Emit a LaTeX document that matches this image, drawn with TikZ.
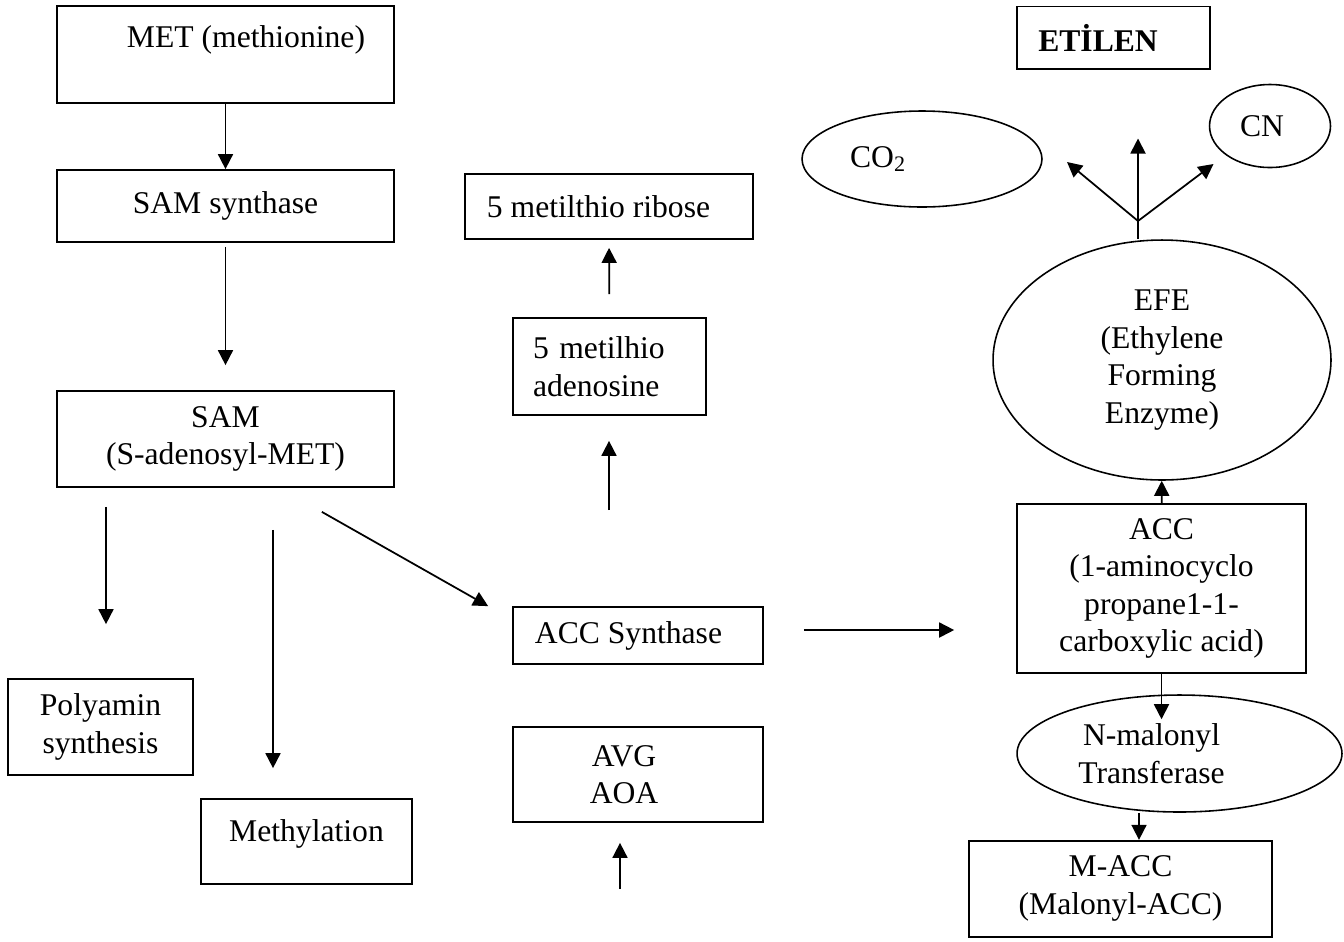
\documentclass[tikz,border=0pt]{standalone}
\usepackage{fontspec}
\setmainfont{Liberation Serif}
\usetikzlibrary{arrows.meta,shapes.geometric}

\begin{document}
\begin{tikzpicture}[
    x=0.02cm, y=-0.02cm,
    box/.style={draw, line width=1pt, inner sep=0pt, align=center},
    oval/.style={draw, ellipse, line width=0.9pt, inner sep=0pt, align=center},
    arr/.style={-{Triangle[length=0.3cm,width=0.3cm]}, line width=1pt},
    font=\fontsize{18pt}{21.4pt}\selectfont
  ]
  \useasboundingbox (0,0) rectangle (1344,941);

  % left column
  \node[box, minimum width=6.74cm, minimum height=1.94cm, text height=0.35cm, text depth=0.65cm] (met) at (225.5,54.5) {\hspace*{0.82cm}MET (methionine)};
  \node[box, minimum width=6.74cm, minimum height=1.44cm] (samsyn) at (225.5,206) {SAM synthase};
  \node[box, minimum width=6.74cm, minimum height=1.92cm] (sam) at (225.5,439) {SAM\\(S-adenosyl-MET)};
  \node[box, minimum width=3.7cm, minimum height=1.92cm] (poly) at (100.5,727) {Polyamin\\synthesis};
  \node[box, minimum width=4.22cm, minimum height=1.7cm, text height=0.3cm, text depth=0.3cm] (methyl) at (306.5,841.5) {Methylation};

  % middle column
  \node[box, minimum width=5.76cm, minimum height=1.3cm] (ribose) at (609,206.5) {5 metilthio ribose\hspace*{0.42cm}};
  \node[box, text width=3.06cm, inner xsep=0.4cm, minimum height=1.94cm, align=left] (mta) at (609.5,366.5) {5 metilhio\\adenosine};
  \node[box, minimum width=5cm, minimum height=1.14cm] (accsyn) at (638,635.5) {ACC Synthase\hspace*{0.38cm}};
  \node[box, minimum width=5cm, minimum height=1.9cm] (avg) at (638,774.5) {AVG\hspace*{0.56cm}\\AOA\hspace*{0.56cm}};

  % right column
  \node[box, minimum width=3.86cm, minimum height=1.25cm, font=\fontsize{18pt}{21.4pt}\selectfont\bfseries] (etilen) at (1113.5,37.75) {ETİLEN\hspace*{0.62cm}};
  \node[oval, minimum width=4.8cm, minimum height=1.92cm] (co2) at (922,159) {CO\textsubscript{2}\hspace*{1.76cm}};
  \node[oval, minimum width=2.42cm, minimum height=1.66cm] (cn) at (1270,126) {CN\hspace*{0.32cm}};
  \node[oval, minimum width=6.76cm, minimum height=4.8cm] (efe) at (1162,360) {EFE\\(Ethylene\\Forming\\Enzyme)};
  \node[box, minimum width=5.78cm, minimum height=3.38cm] (acc) at (1161.5,588.5) {ACC\\(1-aminocyclo\\propane1-1-\\carboxylic acid)};
  \node[oval, minimum width=6.5cm, minimum height=2.34cm] (nmt) at (1179.5,753.5) {N-malonyl\hspace*{1.12cm}\\Transferase\hspace*{1.12cm}};
  \node[box, minimum width=6.06cm, minimum height=1.92cm] (macc) at (1120.5,888.7) {M-ACC\\(Malonyl-ACC)};

  \coordinate (split) at (1138,221);
  \coordinate (upend) at (1138,138.5);
  \coordinate (leftend) at (1067,162);
  \coordinate (rightend) at (1213.5,164);
  \coordinate (mtain) at (609,510);
  \coordinate (avgin) at (620,889);

  \draw[arr] (met) -- (samsyn);
  \draw[arr, shorten <=0.08cm, shorten >=0.5cm] (samsyn) -- (sam);
  \draw[arr, shorten <=0.38cm, shorten >=1.08cm] ([xshift=0.11cm]sam.south -| poly.north) -- ([xshift=0.11cm]poly.north);
  \draw[arr, shorten <=0.84cm, shorten >=0.6cm] ([xshift=-0.67cm]sam.south -| methyl.north) -- ([xshift=-0.67cm]methyl.north);
  \draw[arr] ([shift={(-1.46cm,-0.48cm)}]sam.south east) -- ([xshift=-0.48cm]accsyn.north west);
  \draw[arr, shorten <=0.8cm, shorten >=1.24cm] ([yshift=0.11cm]accsyn.east) -- ([yshift=0.11cm]accsyn.east -| acc.west);
  \draw[arr, shorten <=0.46cm, shorten >=0.16cm] (mta.north) -- (ribose.south);
  \draw[arr, shorten >=0.5cm] (mtain) -- (mtain |- mta.south);
  \draw[arr, shorten >=0.4cm] (avgin) -- (avgin |- avg.south);
  \draw[arr] (acc) -- (efe);
  \draw[line width=1pt] (efe.north -| split) -- (split);
  \draw[arr] (split) -- (upend);
  \draw[arr] (split) -- (leftend);
  \draw[arr] (split) -- (rightend);
  \draw[arr, shorten >=-0.5cm] (acc.south) -- (acc.south |- nmt.north);
  \draw[arr] ([xshift=0.37cm]macc.north |- nmt.south) -- ([xshift=0.37cm]macc.north);
\end{tikzpicture}
\end{document}
